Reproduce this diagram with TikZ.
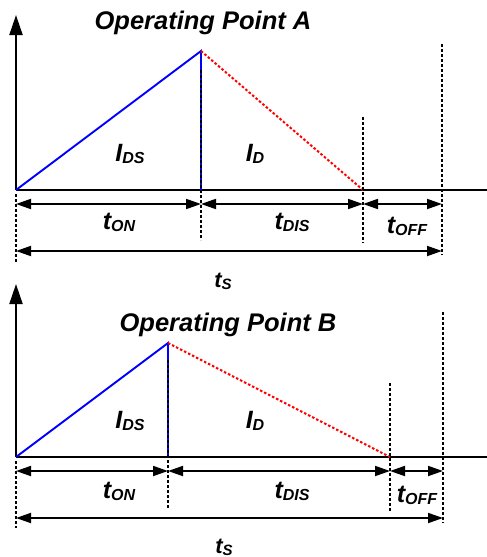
\documentclass[tikz,border=0pt]{standalone}
\usepackage{fontspec}
\setmainfont{Liberation Sans}
\usetikzlibrary{arrows.meta}
\newcommand{\mylbl}[2]{{\fontsize{25}{25}\selectfont #1}{\fontsize{16}{16}\selectfont\raisebox{-2pt}{#2}}}
\newcommand{\mylbls}[2]{{\fontsize{22}{22}\selectfont #1}{\fontsize{15}{15}\selectfont\raisebox{-2pt}{#2}}}
\tikzset{
  axisline/.style={line width=2pt, black},
  yaxis/.style={axisline, -{Triangle[length=20pt,width=13pt]}},
  ramp/.style={line width=1.9pt, blue},
  fall/.style={line width=2pt, red, dash pattern=on 2.5pt off 2pt},
  guide/.style={line width=1.5pt, black, dash pattern=on 3pt off 2pt},
  dim/.style={line width=1.8pt, black, {Triangle[length=15pt,width=10pt]}-{Triangle[length=15pt,width=10pt]}},
  txt/.style={inner sep=0pt, anchor=base, font=\bfseries\itshape},
  ttl/.style={inner sep=0pt, anchor=base, font=\bfseries\itshape\fontsize{25.5}{25.5}\selectfont}
}
\begin{document}
\begin{tikzpicture}[x=1pt,y=-1pt]
\useasboundingbox (0,0) rectangle (487,557);
\fill[white] (0,0) rectangle (487,557);
% ---------- Panel A ----------
\coordinate (A0) at (16,190);
\coordinate (Ay) at (16,15);
\coordinate (Ax) at (487,190);
\coordinate (Apk) at (201,51);
\coordinate (Apb) at (201,190);
\coordinate (Ae) at (363,190);
\coordinate (Ag0a) at (16,194);
\coordinate (Ag0b) at (16,262);
\coordinate (Ag1a) at (201,70);
\coordinate (Ag1b) at (201,240);
\coordinate (Ag2a) at (363,117);
\coordinate (Ag2b) at (363,243);
\coordinate (Ag3a) at (442,44);
\coordinate (Ag3b) at (442,255);
\coordinate (Ad0) at (16,204);
\coordinate (Ad1) at (201,204);
\coordinate (Ad2) at (363,204);
\coordinate (Ad3) at (442,204);
\coordinate (As0) at (16,251);
\coordinate (As1) at (442,251);
\draw[axisline] (A0) -- (Ax);
\draw[yaxis] (A0) -- (Ay);
\draw[ramp] (A0) -- (Apk) -- (Apb);
\draw[fall] (Apk) -- (Ae);
\draw[guide] (Ag0a) -- (Ag0b);
\draw[guide] (Ag1a) -- (Ag1b);
\draw[guide] (Ag2a) -- (Ag2b);
\draw[guide] (Ag3a) -- (Ag3b);
\draw[dim] (Ad0) -- (Ad1);
\draw[dim] (Ad1) -- (Ad2);
\draw[dim] (Ad2) -- (Ad3);
\draw[dim] (As0) -- (As1);
\node[ttl] (Atitle) at (203,29) {Operating Point A};
\node[txt] (Aids) at (130,161) {\mylbl{I}{DS}};
\node[txt] (Aid) at (255,161) {\mylbl{I}{D}};
\node[txt] (Aton) at (119,229) {\mylbl{t}{ON}};
\node[txt] (Atdis) at (292,229) {\mylbl{t}{DIS}};
\node[txt] (Atoff) at (407,233) {\mylbl{t}{OFF}};
\node[txt] (Ats) at (223,287) {\mylbls{t}{S}};
% ---------- Panel B ----------
\coordinate (B0) at (16,457);
\coordinate (By) at (16,284);
\coordinate (Bx) at (487,457);
\coordinate (Bpk) at (168,343);
\coordinate (Bpb) at (168,457);
\coordinate (Be) at (390,457);
\coordinate (Bg0a) at (16,461);
\coordinate (Bg0b) at (16,528);
\coordinate (Bg1a) at (168,360);
\coordinate (Bg1b) at (168,508);
\coordinate (Bg2a) at (390,383);
\coordinate (Bg2b) at (390,511);
\coordinate (Bg3a) at (443,312);
\coordinate (Bg3b) at (443,523);
\coordinate (Bd0) at (16,471);
\coordinate (Bd1) at (168,471);
\coordinate (Bd2) at (390,471);
\coordinate (Bd3) at (443,471);
\coordinate (Bs0) at (16,518);
\coordinate (Bs1) at (443,518);
\draw[axisline] (B0) -- (Bx);
\draw[yaxis] (B0) -- (By);
\draw[ramp] (B0) -- (Bpk) -- (Bpb);
\draw[fall] (Bpk) -- (Be);
\draw[guide] (Bg0a) -- (Bg0b);
\draw[guide] (Bg1a) -- (Bg1b);
\draw[guide] (Bg2a) -- (Bg2b);
\draw[guide] (Bg3a) -- (Bg3b);
\draw[dim] (Bd0) -- (Bd1);
\draw[dim] (Bd1) -- (Bd2);
\draw[dim] (Bd2) -- (Bd3);
\draw[dim] (Bs0) -- (Bs1);
\node[ttl] (Btitle) at (228,331) {Operating Point B};
\node[txt] (Bids) at (130,428) {\mylbl{I}{DS}};
\node[txt] (Bid) at (255,428) {\mylbl{I}{D}};
\node[txt] (Bton) at (119,498) {\mylbl{t}{ON}};
\node[txt] (Btdis) at (292,498) {\mylbl{t}{DIS}};
\node[txt] (Btoff) at (417,502) {\mylbl{t}{OFF}};
\node[txt] (Bts) at (224,553) {\mylbls{t}{S}};
\end{tikzpicture}
\end{document}
